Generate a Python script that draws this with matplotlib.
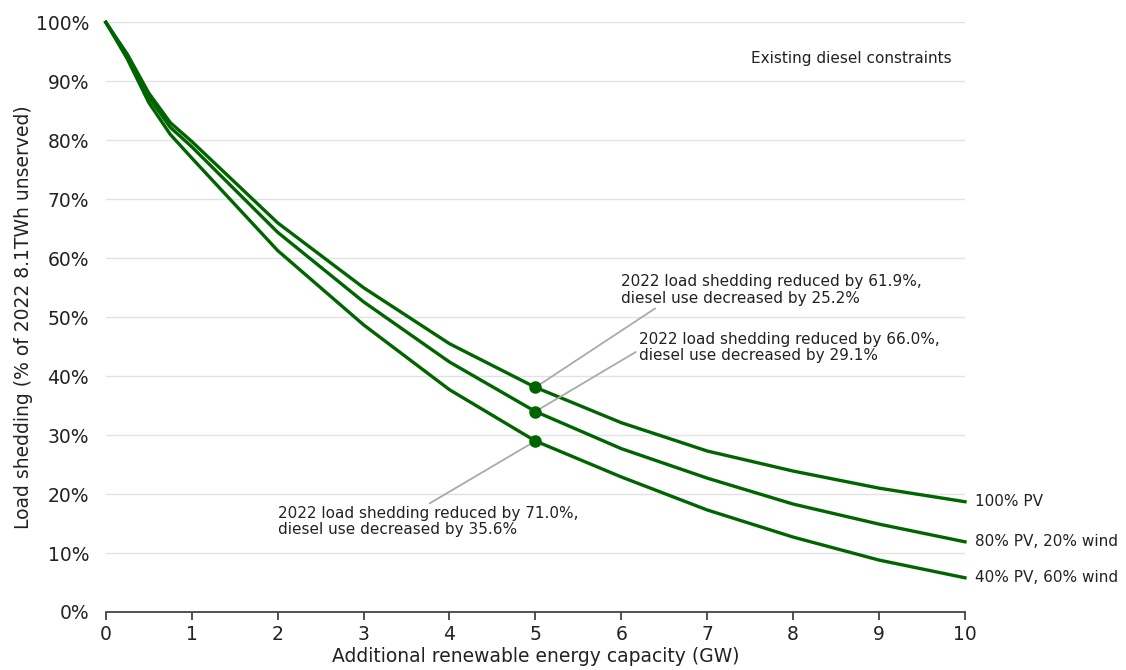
import numpy as np
import matplotlib.pyplot as plt

# Additional renewable capacity (GW)
capacity_gw = [0, 0.25, 0.5, 0.75, 1, 2, 3, 4, 5, 6, 7, 8, 9, 10]

# Load shedding as % of 2022 unserved energy (8.1 TWh)
pv_100 = [100, 94.6, 88.0, 83.0, 79.8, 66.0, 55.0, 45.5, 38.1, 32.1, 27.3, 23.9, 21.0, 18.7]
pv_80_wind_20 = [100, 94.3, 87.3, 82.2, 78.9, 64.4, 52.6, 42.4, 34.0, 27.7, 22.7, 18.3, 14.9, 11.9]
pv_40_wind_60 = [100, 93.8, 86.4, 81.0, 77.0, 61.3, 48.7, 37.7, 29.0, 22.9, 17.3, 12.7, 8.8, 5.8]

series_names = ["100% PV", "80% PV, 20% wind", "40% PV, 60% wind"]
series_values = [pv_100, pv_80_wind_20, pv_40_wind_60]

# Highlighted scenario at 5 GW
highlight_x = 5
shedding_cut = [61.9, 66.0, 71.0]
diesel_cut = [25.2, 29.1, 35.6]

green = "#006400"
text_col = "#222222"

fig = plt.figure(figsize=(11.26, 6.70), dpi=100)
ax = fig.add_axes([0.094, 0.0866, 0.763, 0.88])

for name, vals in zip(series_names, series_values):
    ax.plot(capacity_gw, vals, color=green, linewidth=2.4, clip_on=False, zorder=3)
    ax.text(10.12, vals[-1], name, ha="left", va="center", fontsize=11, color=text_col)

# annotation text placement: (x, y, relpos of the leader line on the text box)
ann_pos = [(6.0, 54.6, (0.15, 0.15)), (6.2, 44.9, (0.0, 0.4)), (2.0, 15.3, (0.49, 1.0))]
for cut, dcut, (tx, ty, rp) in zip(shedding_cut, diesel_cut, ann_pos):
    y5 = 100 - cut
    ax.plot([highlight_x], [y5], "o", color=green, markersize=8, zorder=4)
    ax.annotate(f"2022 load shedding reduced by {cut:.1f}%,\ndiesel use decreased by {dcut:.1f}%",
                xy=(highlight_x, y5), xytext=(tx, ty), ha="left", va="center",
                fontsize=11, color=text_col, linespacing=1.1,
                arrowprops=dict(arrowstyle="-", color="#aaaaaa", lw=1.3,
                                relpos=rp, shrinkA=0, shrinkB=3))

ax.text(9.85, 93.9, "Existing diesel constraints", ha="right", va="center",
        fontsize=11, color=text_col)

ax.set_xlim(0, 10)
ax.set_ylim(0, 100)
ax.set_xticks(range(0, 11))
ax.set_yticks(range(0, 101, 10))
ax.set_yticklabels([f"{v}%" for v in range(0, 101, 10)])
ax.yaxis.grid(True, color="#e2e2e2", linewidth=1)
ax.set_axisbelow(True)

for side in ["left", "right", "top"]:
    ax.spines[side].set_visible(False)
ax.spines["bottom"].set_color("#444444")
ax.spines["bottom"].set_linewidth(1.3)
ax.tick_params(axis="y", length=0, labelsize=13.5, colors=text_col, pad=12)
ax.tick_params(axis="x", length=6, width=1.3, labelsize=13.5, colors="#444444", labelcolor=text_col)

ax.set_xlabel("Additional renewable energy capacity (GW)", fontsize=13.5, color=text_col, labelpad=2)
ax.set_ylabel("Load shedding (% of 2022 8.1TWh unserved)", fontsize=13.5, color=text_col, labelpad=2)

fig.savefig("out.png", dpi=100)
